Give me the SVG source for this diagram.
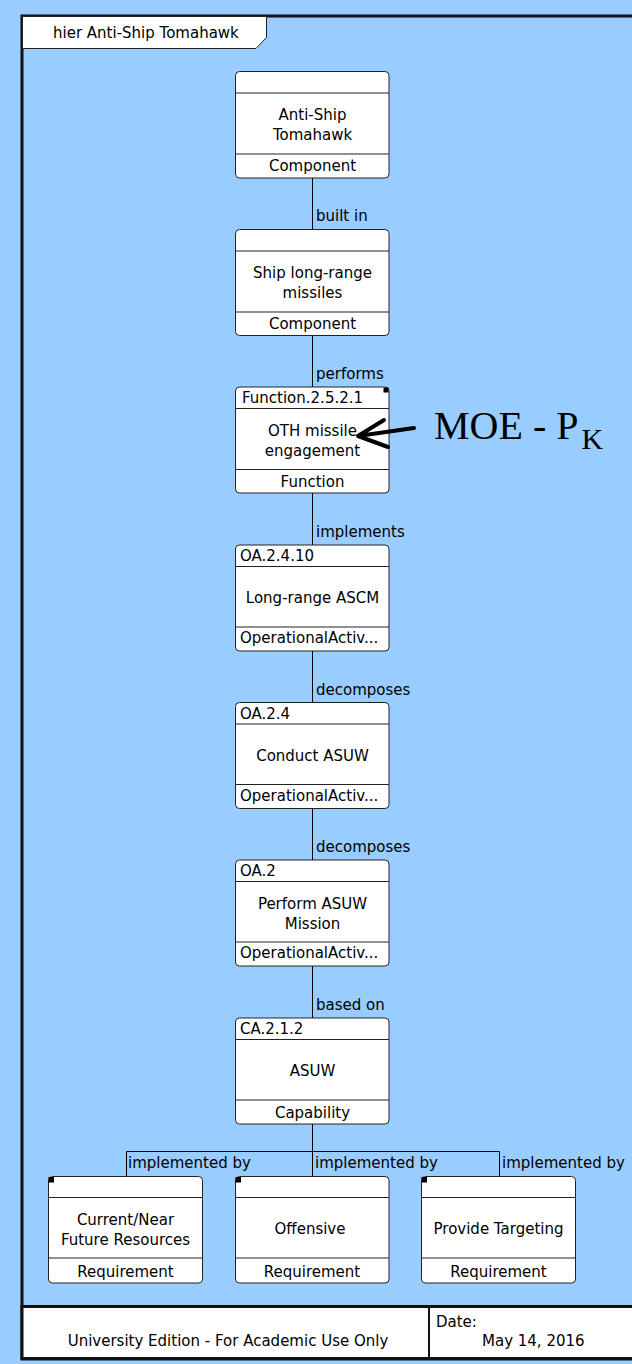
<svg xmlns="http://www.w3.org/2000/svg" width="632" height="1364" viewBox="0 0 632 1364">
<style>
text{font-family:"DejaVu Sans",Verdana,sans-serif;font-size:15px;fill:#000}
.c{text-anchor:middle}
.box{fill:#fff;stroke:#222;stroke-width:1}
.div{stroke:#222;stroke-width:1}
.conn{stroke:#000;stroke-width:1;fill:none}
text.moe{font-family:"Liberation Serif","Times New Roman",serif;font-size:40px}
.sub{font-size:30px}
</style>
<rect x="0" y="0" width="632" height="1364" fill="#99CCFF"/>
<g id="frame">
<rect x="22" y="16" width="700" height="1343" fill="none" stroke="#111" stroke-width="3"/>
<path d="M22.5 16.5 H266.5 V37.5 L256 48.5 H22.5 Z" fill="#fff" stroke="#222" stroke-width="1"/>
<text x="53" y="38">hier Anti-Ship Tomahawk</text>
</g>
<g id="connectors">
<path class="conn" d="M312.5 177.5 V229.5 M312.5 335 V387 M312.5 493 V545 M312.5 651 V702.5 M312.5 808.5 V860 M312.5 966 V1018 M312.5 1124 V1176.5 M126.5 1176.5 V1151.5 H499.5 V1176.5"/>
<text x="316" y="221">built in</text>
<text x="316" y="379">performs</text>
<text x="316" y="537">implements</text>
<text x="316" y="694.5">decomposes</text>
<text x="316" y="852">decomposes</text>
<text x="316" y="1010">based on</text>
<text x="128" y="1168">implemented by</text>
<text x="315" y="1168">implemented by</text>
<text x="502" y="1168">implemented by</text>
</g>
<g id="n1">
<rect class="box" x="235.5" y="71.5" width="153.5" height="106.5" rx="4"/>
<path class="div" d="M235.5 93 H389 M235.5 154 H389"/>
<text class="c" x="312.5" y="120">Anti-Ship</text>
<text class="c" x="312.5" y="140">Tomahawk</text>
<text class="c" x="312.5" y="171">Component</text>
</g>
<g id="n2">
<rect class="box" x="235.5" y="229.5" width="153.5" height="106" rx="4"/>
<path class="div" d="M235.5 251 H389 M235.5 312 H389"/>
<text class="c" x="312.5" y="278">Ship long-range</text>
<text class="c" x="312.5" y="298">missiles</text>
<text class="c" x="312.5" y="329">Component</text>
</g>
<g id="n3">
<rect class="box" x="235.5" y="387" width="153.5" height="106" rx="4"/>
<path class="div" d="M235.5 408.5 H389 M235.5 469.5 H389"/>
<rect x="383.5" y="387.5" width="5" height="5" fill="#000"/>
<text x="242" y="403">Function.2.5.2.1</text>
<text class="c" x="312.5" y="436">OTH missile</text>
<text class="c" x="312.5" y="456">engagement</text>
<text class="c" x="312.5" y="487">Function</text>
</g>
<g id="n4">
<rect class="box" x="235.5" y="545" width="153.5" height="106" rx="4"/>
<path class="div" d="M235.5 566.5 H389 M235.5 627 H389"/>
<text x="240" y="561">OA.2.4.10</text>
<text class="c" x="312.5" y="603">Long-range ASCM</text>
<text x="240" y="643">OperationalActiv...</text>
</g>
<g id="n5">
<rect class="box" x="235.5" y="702.5" width="153.5" height="106" rx="4"/>
<path class="div" d="M235.5 724 H389 M235.5 784.5 H389"/>
<text x="240" y="718.5">OA.2.4</text>
<text class="c" x="312.5" y="760.5">Conduct ASUW</text>
<text x="240" y="800.5">OperationalActiv...</text>
</g>
<g id="n6">
<rect class="box" x="235.5" y="860" width="153.5" height="106" rx="4"/>
<path class="div" d="M235.5 881.5 H389 M235.5 942 H389"/>
<text x="240" y="876">OA.2</text>
<text class="c" x="312.5" y="908.5">Perform ASUW</text>
<text class="c" x="312.5" y="928.5">Mission</text>
<text x="240" y="958">OperationalActiv...</text>
</g>
<g id="n7">
<rect class="box" x="235.5" y="1018" width="153.5" height="106" rx="4"/>
<path class="div" d="M235.5 1039.5 H389 M235.5 1100 H389"/>
<text x="240" y="1034">CA.2.1.2</text>
<text class="c" x="312.5" y="1076">ASUW</text>
<text class="c" x="312.5" y="1117.5">Capability</text>
</g>
<g id="r1">
<rect class="box" x="48.5" y="1176.5" width="154" height="106.5" rx="4"/>
<path class="div" d="M48.5 1197.5 H202.5 M48.5 1258 H202.5"/>
<rect x="48.5" y="1177" width="5.5" height="5.5" fill="#000"/>
<text class="c" x="125.5" y="1225">Current/Near</text>
<text class="c" x="125.5" y="1245">Future Resources</text>
<text class="c" x="125.5" y="1277">Requirement</text>
</g>
<g id="r2">
<rect class="box" x="235.5" y="1176.5" width="153.5" height="106.5" rx="4"/>
<path class="div" d="M235.5 1197.5 H389 M235.5 1258 H389"/>
<rect x="235.5" y="1177" width="5.5" height="5.5" fill="#000"/>
<text class="c" x="310" y="1234">Offensive</text>
<text class="c" x="312" y="1277">Requirement</text>
</g>
<g id="r3">
<rect class="box" x="421.5" y="1176.5" width="154" height="106.5" rx="4"/>
<path class="div" d="M421.5 1197.5 H575.5 M421.5 1258 H575.5"/>
<rect x="421.5" y="1177" width="5.5" height="5.5" fill="#000"/>
<text class="c" x="498.5" y="1234">Provide Targeting</text>
<text class="c" x="498.5" y="1277">Requirement</text>
</g>
<g id="footer">
<rect x="22" y="1306.5" width="700" height="52" fill="#fff" stroke="#111" stroke-width="3"/>
<line x1="429" y1="1306.5" x2="429" y2="1358.5" stroke="#111" stroke-width="2"/>
<text class="c" x="228" y="1346">University Edition - For Academic Use Only</text>
<text x="436" y="1327">Date:</text>
<text x="482" y="1346">May 14, 2016</text>
</g>
<g id="annotation">
<path d="M414 428 L358 436 M384 420 L358 436 L388 447" fill="none" stroke="#000" stroke-width="4" stroke-linecap="round" stroke-linejoin="round"/>
<text class="moe" x="434" y="439">MOE - P<tspan class="sub" dx="3" dy="10">K</tspan></text>
</g>
</svg>
